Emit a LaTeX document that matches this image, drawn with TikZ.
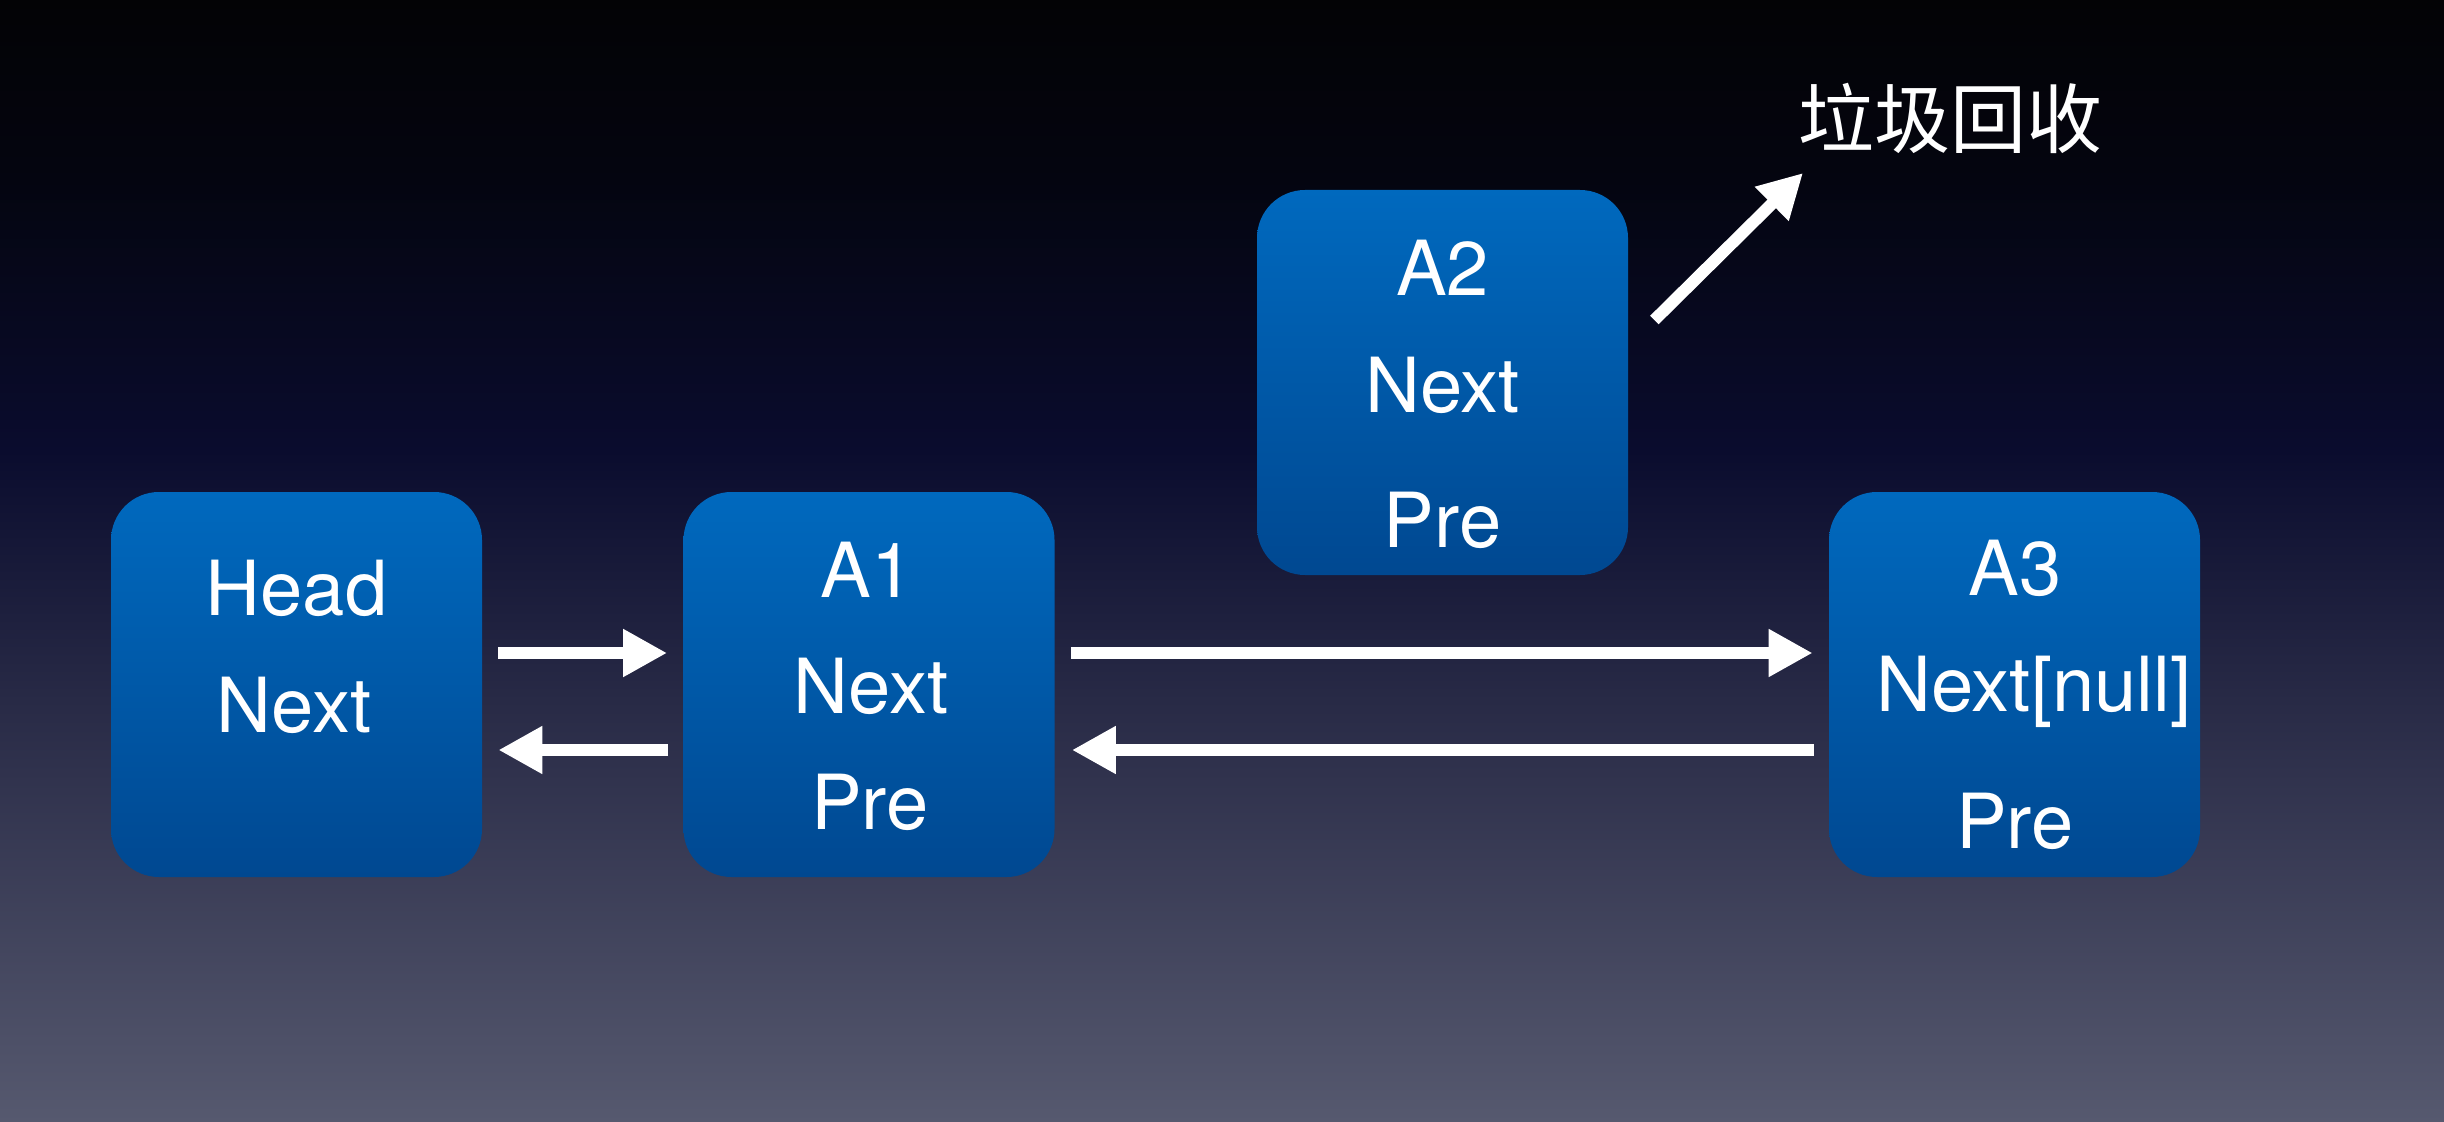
\documentclass[tikz,border=0pt]{standalone}
\usepackage{fontspec}
\setmainfont{TeX Gyre Heros}
\newfontfamily\cjkfont{Noto Sans CJK SC}
\usetikzlibrary{arrows.meta,calc}
\definecolor{bgA}{RGB}{3,3,5}
\definecolor{bgB}{RGB}{4,5,16}
\definecolor{bgC}{RGB}{10,12,46}
\definecolor{bgD}{RGB}{40,42,70}
\definecolor{bgE}{RGB}{86,89,111}
\definecolor{boxtop}{RGB}{0,105,190}
\definecolor{boxbot}{RGB}{0,72,145}
\begin{document}
\begin{tikzpicture}[x=0.5pt,y=-0.5pt,
  box/.style={rounded corners=24pt, minimum width=185.5pt, minimum height=192.5pt,
    inner sep=0pt, top color=boxtop, bottom color=boxbot, draw=none},
  lbl/.style={text=white, font=\fontsize{38}{38}\selectfont, anchor=base, inner sep=0pt},
  arr/.style={draw=white, line width=6pt, -{Triangle[length=22pt,width=22.5pt]}}]
\useasboundingbox (0,0) rectangle (2444,1122);
% background
\shade[top color=bgA, bottom color=bgB] (0,0) rectangle (2444,181);
\shade[top color=bgB, bottom color=bgC] (0,180) rectangle (2444,451);
\shade[top color=bgC, bottom color=bgD] (0,450) rectangle (2444,701);
\shade[top color=bgD, bottom color=bgE] (0,700) rectangle (2444,1122);
% boxes
\node[box] (head) at (296.5,684.5) {};
\node[box] (a1) at (869,684.5) {};
\node[box] (a2) at (1442.5,382.5) {};
\node[box] (a3) at (2014.5,684.5) {};
% labels
\node[lbl] (headT) at (296.5,615) {Head};
\node[lbl] (headN) at (294,732) {Next};
\node[lbl] (a1T) at (867,597) {A1};
\node[lbl] (a1N) at (871,713) {Next};
\node[lbl] (a1P) at (870,829) {Pre};
\node[lbl] (a2T) at (1442.5,296) {A2};
\node[lbl] (a2N) at (1442.5,413) {Next};
\node[lbl] (a2P) at (1442.5,547) {Pre};
\node[lbl] (a3T) at (2015,595) {A3};
\node[lbl] (a3N) at (2034,711) {Next[null]};
\node[lbl] (a3P) at (2015,848) {Pre};
\node[text=white, inner sep=0pt, font=\cjkfont\fontsize{38}{38}\selectfont] (gc) at (1950,118) {垃圾回收};
\coordinate (gcTip) at (1803,173);
% arrows
\draw[arr] ($(head.east)+(8pt,15.75pt)$) -- ($(a1.west)+(-8pt,15.75pt)$);
\draw[arr] ($(a1.west)+(-7.5pt,-32.75pt)$) -- ($(head.east)+(8pt,-32.75pt)$);
\draw[arr] ($(a1.east)+(8pt,15.75pt)$) -- ($(a3.west)+(-8pt,15.75pt)$);
\draw[arr] ($(a3.west)+(-7.5pt,-32.75pt)$) -- ($(a1.east)+(8.5pt,-32.75pt)$);
\draw[arr] ($(a2.east)+(13pt,31.25pt)$) -- (gcTip);
\end{tikzpicture}
\end{document}
